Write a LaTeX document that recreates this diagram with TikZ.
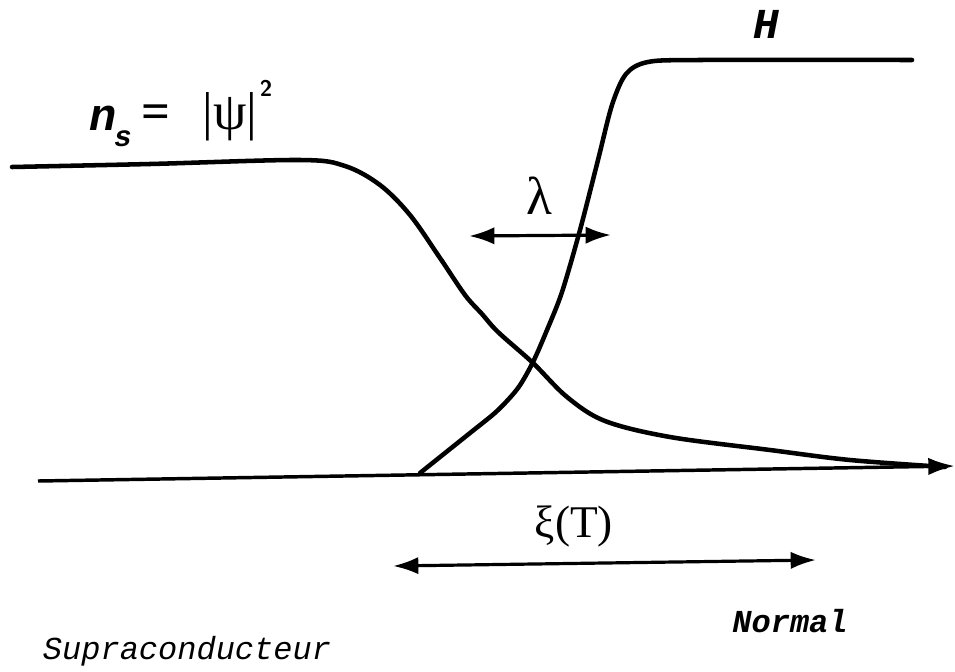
\documentclass[tikz,border=0pt]{standalone}
\usepackage{fontspec}
\setmainfont{Liberation Serif}
\newfontfamily\cour{Liberation Mono}
\usetikzlibrary{arrows.meta}
\begin{document}
\begin{tikzpicture}[x=0.75pt,y=-0.75pt,
  curve/.style={line width=3.4pt,line cap=round,line join=round},
  axisline/.style={line width=2.6pt},
  dimarrow/.style={line width=2.4pt,{Latex[length=19pt,width=13pt]}-{Latex[length=19pt,width=13pt]}},
  greek/.style={font=\fontsize{34}{34}\selectfont,inner sep=0pt},
  lab/.style={font=\cour\bfseries\itshape\fontsize{32}{32}\selectfont,inner sep=0pt},
  region/.style={font=\cour\itshape\fontsize{24}{24}\selectfont,inner sep=0pt}]
\useasboundingbox (0,0) rectangle (955,671);
% axis
\coordinate (ax0) at (38,481);
\coordinate (ax1) at (955,466);
\draw[axisline,-{Latex[length=20pt,width=13pt]}] (ax0) -- (ax1);
% n_s curve
\draw[curve] plot[smooth,tension=0.55] coordinates {(12,167) (150,164) (300,160) (345,166) (380,185) (410,215) (440,258) (465,295) (482,314) (498,332) (533,363) (567,397) (605,421) (670,437) (770,450) (850,460) (945,467)};
% H curve
\draw[curve] plot[smooth,tension=0.5] coordinates {(420,473) (470,433) (497,411) (518,388) (533,362) (547,330) (562,292) (580,230) (598,160) (612,105) (626,74) (648,62) (700,60) (912,60)};
% lambda arrow
\coordinate (l0) at (469,236);
\coordinate (l1) at (611,235);
\draw[dimarrow] (l0) -- (l1);
\node[greek,font=\fontsize{40}{40}\selectfont] (lam) at (539,196) {λ};
% xi arrow
\coordinate (x0) at (393,566);
\coordinate (x1) at (816,560);
\draw[dimarrow] (x0) -- (x1);
\node[greek] (xi) at (574,526) {ξ(T)};
% labels
\node[lab] (H) at (766,24) {H};
\node[lab,font=\cour\bfseries\itshape\fontsize{34}{34}\selectfont] (n) at (103,118) {n};
\node[lab,font=\cour\bfseries\itshape\fontsize{22}{22}\selectfont] (s) at (123,139) {s};
\node[font=\bfseries\fontsize{38}{38}\selectfont,inner sep=0pt] (eq) at (156,117) {=};
\node[greek,font=\fontsize{40}{40}\selectfont] (psi) at (230,117) {|ψ|};
\node[font=\sffamily\bfseries\fontsize{17}{17}\selectfont,inner sep=0pt] (two) at (266,88) {2};
\node[region] (sup) at (187,651) {Supraconducteur};
\node[region,font=\cour\bfseries\itshape\fontsize{24}{24}\selectfont] (nor) at (790,621) {Normal};
\end{tikzpicture}
\end{document}
